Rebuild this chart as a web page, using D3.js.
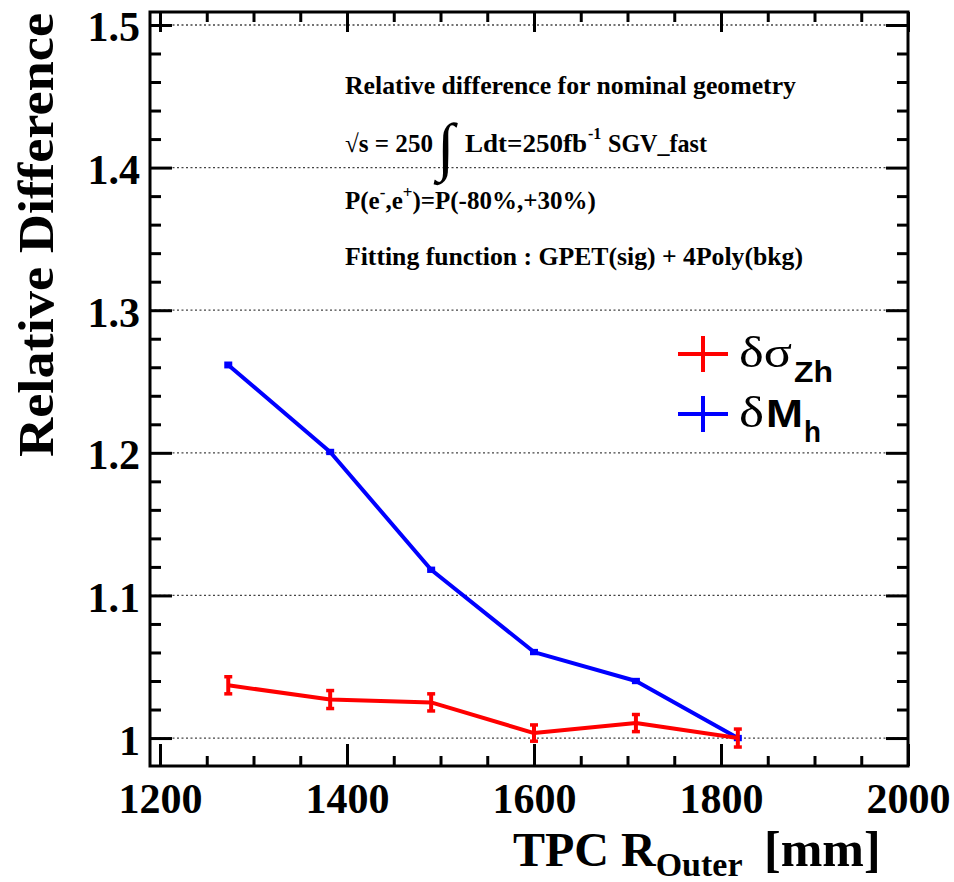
<!DOCTYPE html>
<html>
<head>
<meta charset="utf-8">
<script src="https://cdn.jsdelivr.net/npm/d3@7"></script>
<style>
  body { margin: 0; background: #fff; }
  svg { display: block; }
</style>
</head>
<body>
<script>
// TPC outer radius [mm] and relative differences
const radius = [1273, 1382, 1490, 1600, 1709, 1818];
const dSigmaZh = [1.037, 1.027, 1.025, 1.0035, 1.0105, 1.0];
const dSigmaZhErr = [0.006, 0.0063, 0.006, 0.0057, 0.006, 0.0063];
const dMh = [1.2616, 1.2006, 1.118, 1.0603, 1.04, 1.0];
const dMhErr = [0.0012, 0.001, 0.001, 0.001, 0.001, 0.001];

const xMajor = [1200, 1400, 1600, 1800, 2000];
const yMajor = [1.0, 1.1, 1.2, 1.3, 1.4, 1.5];

const W = 954, H = 882;
const frame = { left: 150, top: 12, right: 908, bottom: 766 };
const serif = "'Liberation Serif', 'Times New Roman', serif";
const sans = "'Liberation Sans', Arial, sans-serif";

const svg = d3.select("body").append("svg").attr("width", W).attr("height", H);

const x = d3.scaleLinear().domain([1189.3, 2000]).range([frame.left, frame.right]);
const y = d3.scaleLinear().domain([0.9804, 1.5091]).range([frame.bottom, frame.top]);

// minor ticks
const xMinor = d3.range(1200, 2001, 50).filter((v) => v % 200 !== 0);
const yMinor = d3.range(49, 76).map((i) => +(i * 0.02).toFixed(2))
  .filter((v) => Math.round(v * 100) % 10 !== 0 && v >= y.domain()[0] && v <= y.domain()[1]);

// dotted grid
svg.append("g")
  .selectAll("line")
  .data(yMajor)
  .join("line")
  .attr("x1", frame.left)
  .attr("x2", frame.right)
  .attr("y1", (d) => y(d))
  .attr("y2", (d) => y(d))
  .attr("stroke", "#444")
  .attr("stroke-width", 1.3)
  .attr("stroke-dasharray", "2,2.5");

function styleAxis(g) {
  g.select(".domain").remove();
  g.selectAll(".tick line").attr("stroke", "#000").attr("stroke-width", 3);
  g.selectAll("text")
    .attr("font-family", serif)
    .attr("font-weight", "bold")
    .attr("font-size", 42)
    .attr("fill", "#000");
}

const fmtY = (d) => (Math.abs(d - 1) < 1e-9 ? "1" : d.toFixed(1));

// left
svg.append("g").attr("transform", `translate(${frame.left},0)`)
  .call(d3.axisLeft(y).tickValues(yMajor).tickSize(-22).tickPadding(10).tickFormat(fmtY))
  .call(styleAxis)
  .call((g) => g.selectAll("text").attr("dy", "0.38em"));
svg.append("g").attr("transform", `translate(${frame.left},0)`)
  .call(d3.axisLeft(y).tickValues(yMinor).tickSize(-11).tickFormat(""))
  .call(styleAxis);
// right
svg.append("g").attr("transform", `translate(${frame.right},0)`)
  .call(d3.axisRight(y).tickValues(yMajor).tickSize(-22).tickFormat(""))
  .call(styleAxis);
svg.append("g").attr("transform", `translate(${frame.right},0)`)
  .call(d3.axisRight(y).tickValues(yMinor).tickSize(-11).tickFormat(""))
  .call(styleAxis);
// bottom
svg.append("g").attr("transform", `translate(0,${frame.bottom})`)
  .call(d3.axisBottom(x).tickValues(xMajor).tickSize(-22).tickPadding(17).tickFormat(d3.format("d")))
  .call(styleAxis);
svg.append("g").attr("transform", `translate(0,${frame.bottom})`)
  .call(d3.axisBottom(x).tickValues(xMinor).tickSize(-10).tickFormat(""))
  .call(styleAxis);
// top
svg.append("g").attr("transform", `translate(0,${frame.top})`)
  .call(d3.axisTop(x).tickValues(xMajor).tickSize(-20).tickFormat(""))
  .call(styleAxis);
svg.append("g").attr("transform", `translate(0,${frame.top})`)
  .call(d3.axisTop(x).tickValues(xMinor).tickSize(-10).tickFormat(""))
  .call(styleAxis);

// frame
svg.append("rect")
  .attr("x", frame.left)
  .attr("y", frame.top)
  .attr("width", frame.right - frame.left)
  .attr("height", frame.bottom - frame.top)
  .attr("fill", "none")
  .attr("stroke", "#000")
  .attr("stroke-width", 3);

// series
const series = [
  { vals: dMh, errs: dMhErr, color: "#0000ff" },
  { vals: dSigmaZh, errs: dSigmaZhErr, color: "#ff0000" },
];

const line = d3.line().x((d) => x(d[0])).y((d) => y(d[1]));

series.forEach((s) => {
  const pts = radius.map((r, i) => [r, s.vals[i], s.errs[i]]);
  const g = svg.append("g");
  g.append("path")
    .datum(pts)
    .attr("d", line)
    .attr("fill", "none")
    .attr("stroke", s.color)
    .attr("stroke-width", 4)
    .attr("stroke-linejoin", "round");
  g.selectAll(".err")
    .data(pts)
    .join("line")
    .attr("x1", (d) => x(d[0]))
    .attr("x2", (d) => x(d[0]))
    .attr("y1", (d) => y(d[1] - d[2]))
    .attr("y2", (d) => y(d[1] + d[2]))
    .attr("stroke", s.color)
    .attr("stroke-width", 4);
  [-1, 1].forEach((sgn) => {
    g.selectAll(null)
      .data(pts)
      .join("line")
      .attr("x1", (d) => x(d[0]) - 4)
      .attr("x2", (d) => x(d[0]) + 4)
      .attr("y1", (d) => y(d[1] + sgn * d[2]))
      .attr("y2", (d) => y(d[1] + sgn * d[2]))
      .attr("stroke", s.color)
      .attr("stroke-width", 3.5);
  });
});

// annotation block
const note = svg.append("g")
  .attr("font-family", serif)
  .attr("font-weight", "bold")
  .attr("font-size", 25)
  .attr("fill", "#000");

note.append("text").attr("x", 345).attr("y", 94)
  .attr("textLength", 451).attr("lengthAdjust", "spacingAndGlyphs")
  .text("Relative difference for nominal geometry");

note.append("text").attr("x", 345).attr("y", 152)
  .attr("textLength", 88).attr("lengthAdjust", "spacingAndGlyphs")
  .text("√s = 250");
note.append("text").attr("x", 437).attr("y", 168)
  .attr("font-size", 64).attr("font-weight", "normal")
  .text("∫");
note.append("text").attr("x", 465).attr("y", 152)
  .attr("textLength", 122).attr("lengthAdjust", "spacingAndGlyphs")
  .text("Ldt=250fb");
note.append("text").attr("x", 588).attr("y", 139)
  .attr("font-size", 16).text("-1");
note.append("text").attr("x", 608).attr("y", 152)
  .attr("textLength", 99).attr("lengthAdjust", "spacingAndGlyphs")
  .text("SGV_fast");

const l3 = note.append("text").attr("x", 345).attr("y", 209);
l3.append("tspan").text("P(e");
l3.append("tspan").attr("dy", -11).attr("font-size", 17).text("-");
l3.append("tspan").attr("dy", 11).text(",e");
l3.append("tspan").attr("dy", -11).attr("font-size", 17).text("+");
l3.append("tspan").attr("dy", 11).text(")=P(-80%,+30%)");

note.append("text").attr("x", 345).attr("y", 265)
  .attr("textLength", 458).attr("lengthAdjust", "spacingAndGlyphs")
  .text("Fitting function : GPET(sig) + 4Poly(bkg)");

// legend
const legend = [
  { cy: 354, color: "#ff0000", main: "δσ", mainLen: 53, mainSans: "", sub: "Zh", subX: 794, subLen: 39 },
  { cy: 414, color: "#0000ff", main: "δ", mainLen: 25, mainSans: "M", sub: "h", subX: 804, subLen: 17 },
];
legend.forEach((e) => {
  const g = svg.append("g");
  g.append("line").attr("x1", 678).attr("x2", 728).attr("y1", e.cy).attr("y2", e.cy)
    .attr("stroke", e.color).attr("stroke-width", 4);
  g.append("line").attr("x1", 703).attr("x2", 703).attr("y1", e.cy - 18).attr("y2", e.cy + 18)
    .attr("stroke", e.color).attr("stroke-width", 4);
  g.append("text").attr("x", 739).attr("y", e.cy + 13)
    .attr("font-family", serif).attr("font-size", 44).attr("fill", "#000")
    .attr("textLength", e.mainLen).attr("lengthAdjust", "spacingAndGlyphs")
    .text(e.main);
  if (e.mainSans) {
    g.append("text").attr("x", 766).attr("y", e.cy + 13)
      .attr("font-family", sans).attr("font-weight", "bold").attr("font-size", 38)
      .attr("textLength", 37).attr("lengthAdjust", "spacingAndGlyphs")
      .text(e.mainSans);
  }
  g.append("text").attr("x", e.subX).attr("y", e.cy + 28)
    .attr("font-family", sans).attr("font-weight", "bold").attr("font-size", 29)
    .attr("textLength", e.subLen).attr("lengthAdjust", "spacingAndGlyphs")
    .text(e.sub);
});

// axis titles
svg.append("text")
  .attr("transform", "translate(53,13) rotate(-90)")
  .attr("text-anchor", "end")
  .attr("font-family", serif)
  .attr("font-weight", "bold")
  .attr("font-size", 50)
  .attr("textLength", 444)
  .attr("lengthAdjust", "spacingAndGlyphs")
  .text("Relative Difference");

const xt = svg.append("text")
  .attr("x", 513)
  .attr("y", 866)
  .attr("font-family", serif)
  .attr("font-weight", "bold")
  .attr("font-size", 48);
xt.append("tspan").text("TPC R");
xt.append("tspan").attr("dy", 10).attr("font-size", 34).text("Outer");
xt.append("tspan").attr("dy", -10).attr("x", 764).attr("font-size", 50).text("[mm]");
</script>
</body>
</html>
